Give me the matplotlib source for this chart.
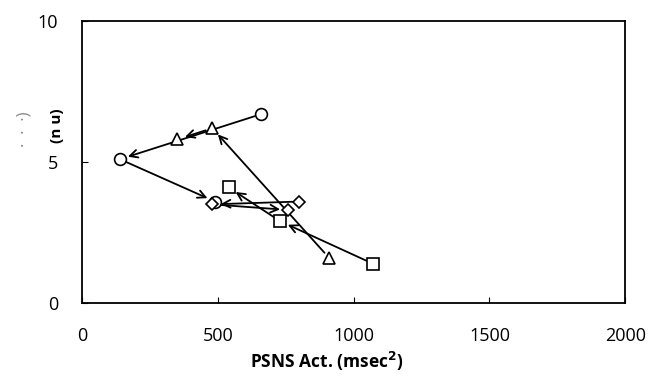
import numpy as np
import matplotlib.pyplot as plt

# data (PSNS activity vs. n u), one list per marker series, in visiting order
circ_x = [660, 140, 490]
circ_y = [6.7, 5.1, 3.6]
tri_x = [910, 480, 350]
tri_y = [1.6, 6.2, 5.8]
sq_x = [1070, 730, 540]
sq_y = [1.4, 2.9, 4.1]
dia_x = [800, 480, 760]
dia_y = [3.6, 3.5, 3.3]

x_ticks = [0, 500, 1000, 1500, 2000]
y_ticks = [0, 5, 10]

plt.rcParams['font.family'] = ['Open Sans', 'DejaVu Sans']

fig = plt.figure(figsize=(6.5, 3.76), dpi=100)
ax = fig.add_axes([0.126, 0.194, 0.836, 0.750])

series = [(circ_x, circ_y, 'o', 8.5),
          (tri_x, tri_y, '^', 9),
          (sq_x, sq_y, 's', 8.5),
          (dia_x, dia_y, 'D', 6.5)]

for xs, ys, m, ms in series:
    for i in range(len(xs) - 1):
        ax.annotate('', xy=(xs[i + 1], ys[i + 1]), xytext=(xs[i], ys[i]),
                    arrowprops=dict(arrowstyle='->', color='black', lw=1.3,
                                    shrinkA=5, shrinkB=6,
                                    mutation_scale=14))

for xs, ys, m, ms in series:
    ax.plot(xs, ys, linestyle='none', marker=m, markersize=ms,
            mfc='white', mec='black', mew=1.2, zorder=5)

ax.set_xlim(0, 2000)
ax.set_ylim(0, 10)
ax.set_xticks(x_ticks)
ax.set_yticks(y_ticks)
ax.tick_params(direction='in', length=4, labelsize=13, pad=17)
for s in ax.spines.values():
    s.set_linewidth(1.3)

ax.set_xlabel('PSNS Act. (msec$^{\\mathbf{2}}$)', fontsize=12.5, fontweight='bold')
ax.xaxis.set_label_coords(0.45, -0.165)

fig.text(0.088, 0.665, '(n u)', rotation=90, ha='center', va='center',
         fontsize=11, fontweight='bold')
fig.text(0.038, 0.655, '\u00b7  \u00b7  \u00b7)', rotation=90, ha='center',
         va='center', fontsize=12, color='#888888')

fig.savefig('out.png', dpi=100)
